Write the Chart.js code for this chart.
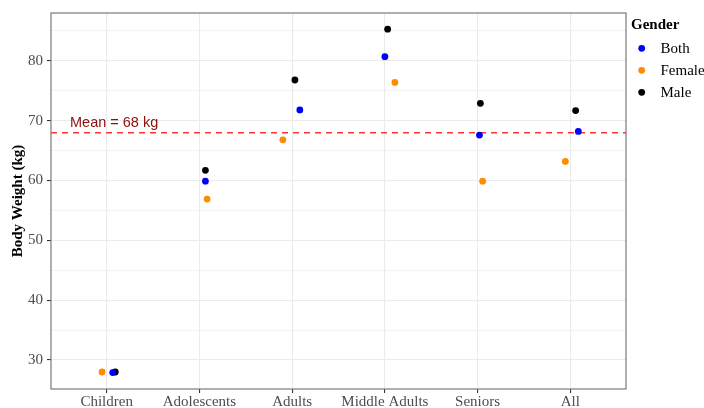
<!DOCTYPE html>
<html>
<head>
<meta charset="utf-8">
<script src="https://cdn.jsdelivr.net/npm/chart.js@4"></script>
<style>
html,body{margin:0;padding:0;background:#fff;}
#wrap{width:704px;height:408px;position:relative;}
</style>
</head>
<body>
<div id="wrap"><canvas id="c" width="704" height="408"></canvas></div>
<script>
// ---- data ----
const categories = ["Children", "Adolescents", "Adults", "Middle Adults", "Seniors", "All"];
const bothValues   = [27.9, 59.9, 71.8, 80.7, 67.6, 68.2];
const femaleValues = [28.0, 56.9, 66.8, 76.4, 59.9, 63.2];
const maleValues   = [28.0, 61.7, 76.8, 85.3, 72.9, 71.7];
// horizontal jitter (in category units) as seen in the picture
const bothJitter   = [0.065, 0.065, 0.083, 0.0, 0.02, 0.086];
const femaleJitter = [-0.05, 0.083, -0.10, 0.108, 0.054, -0.054];
const maleJitter   = [0.093, 0.065, 0.03, 0.03, 0.03, 0.057];
const yMajorTicks = [30, 40, 50, 60, 70, 80];
const yMinorTicks = [35, 45, 55, 65, 75, 85];
const meanValue = 68;
const meanLabel = "Mean = 68 kg";
const legendTitle = "Gender";
const yTitle = "Body Weight (kg)";

function pts(vals, jit) { return vals.map((v, i) => ({ x: i + jit[i], y: v })); }

const serif = "'Liberation Serif', 'DejaVu Serif', serif";
const sans = "'Liberation Sans', Arial, sans-serif";

const decor = {
  id: 'decor',
  beforeDatasetsDraw(chart) {
    const { ctx, chartArea: a, scales } = chart;
    const y = scales.y.getPixelForValue(meanValue);
    ctx.save();
    ctx.strokeStyle = 'rgba(255,30,30,0.9)';
    ctx.lineWidth = 1.5;
    ctx.setLineDash([6, 5]);
    ctx.beginPath();
    ctx.moveTo(a.left, y);
    ctx.lineTo(a.right, y);
    ctx.stroke();
    ctx.restore();
  },
  afterDraw(chart) {
    const { ctx, chartArea: a, scales } = chart;
    ctx.save();
    // panel border
    ctx.strokeStyle = '#7a7a7a';
    ctx.lineWidth = 1.2;
    ctx.strokeRect(a.left, a.top, a.right - a.left, a.bottom - a.top);
    // mean label
    const y = scales.y.getPixelForValue(meanValue);
    ctx.fillStyle = '#8B1010';
    ctx.font = "14.5px " + sans;
    ctx.textBaseline = 'alphabetic';
    ctx.textAlign = 'left';
    ctx.fillText(meanLabel, scales.x.getPixelForValue(-0.395), y - 5.5);
    // y title
    ctx.fillStyle = '#000';
    ctx.font = "bold 15px " + serif;
    ctx.translate(18, (a.top + a.bottom) / 2);
    ctx.rotate(-Math.PI / 2);
    ctx.textAlign = 'center';
    ctx.textBaseline = 'middle';
    ctx.fillText(yTitle, 0, 0);
    ctx.restore();
    // legend
    ctx.save();
    ctx.fillStyle = '#000';
    ctx.font = "bold 15px " + serif;
    ctx.textAlign = 'left';
    ctx.textBaseline = 'alphabetic';
    ctx.fillText(legendTitle, 631, 28.5);
    ctx.font = "15px " + serif;
    chart.data.datasets.forEach((ds, i) => {
      const cy = 48.3 + i * 22;
      ctx.fillStyle = ds.backgroundColor;
      ctx.beginPath();
      ctx.arc(641.7, cy, 3.4, 0, Math.PI * 2);
      ctx.fill();
      ctx.fillStyle = '#000';
      ctx.textBaseline = 'middle';
      ctx.fillText(ds.label, 660.5, cy + 0.5);
    });
    ctx.restore();
  }
};

new Chart(document.getElementById('c'), {
  type: 'scatter',
  data: {
    datasets: [
      { label: 'Both',   data: pts(bothValues, bothJitter),     backgroundColor: '#0000FF', borderWidth: 0 },
      { label: 'Female', data: pts(femaleValues, femaleJitter), backgroundColor: '#FF8C00', borderWidth: 0 },
      { label: 'Male',   data: pts(maleValues, maleJitter),     backgroundColor: '#000000', borderWidth: 0 }
    ]
  },
  options: {
    responsive: false,
    animation: false,
    devicePixelRatio: 1,
    layout: { padding: { left: 0, top: 13, right: 78, bottom: 0 } },
    elements: { point: { radius: 3.4, hoverRadius: 3.4, borderWidth: 0 } },
    plugins: { legend: { display: false }, tooltip: { enabled: false } },
    scales: {
      x: {
        type: 'linear',
        min: -0.6,
        max: 5.6,
        afterBuildTicks(s) { s.ticks = categories.map((_, i) => ({ value: i })); },
        afterFit(s) { s.height = 19; },
        ticks: {
          autoSkip: false,
          maxRotation: 0,
          padding: 0,
          color: '#4D4D4D',
          font: { family: serif, size: 15 },
          callback: (v) => categories[v]
        },
        grid: { color: '#EBEBEB', lineWidth: 1.1, tickColor: '#333333', tickLength: 4 },
        border: { display: false }
      },
      y: {
        type: 'linear',
        min: 25.16,
        max: 88.0,
        afterBuildTicks(s) {
          s.ticks = yMajorTicks.concat(yMinorTicks).sort((a, b) => a - b).map(v => ({ value: v }));
        },
        afterFit(s) { s.width = 51; },
        ticks: {
          padding: 4,
          color: '#4D4D4D',
          font: { family: serif, size: 15 },
          callback: (v) => yMajorTicks.includes(v) ? String(v) : ''
        },
        grid: {
          color: '#EBEBEB',
          lineWidth: (c) => yMajorTicks.includes(c.tick && c.tick.value) ? 1.1 : 0.6,
          tickColor: (c) => yMajorTicks.includes(c.tick && c.tick.value) ? '#333333' : 'rgba(0,0,0,0)',
          tickLength: 4
        },
        border: { display: false }
      }
    }
  },
  plugins: [decor]
});
</script>
</body>
</html>
